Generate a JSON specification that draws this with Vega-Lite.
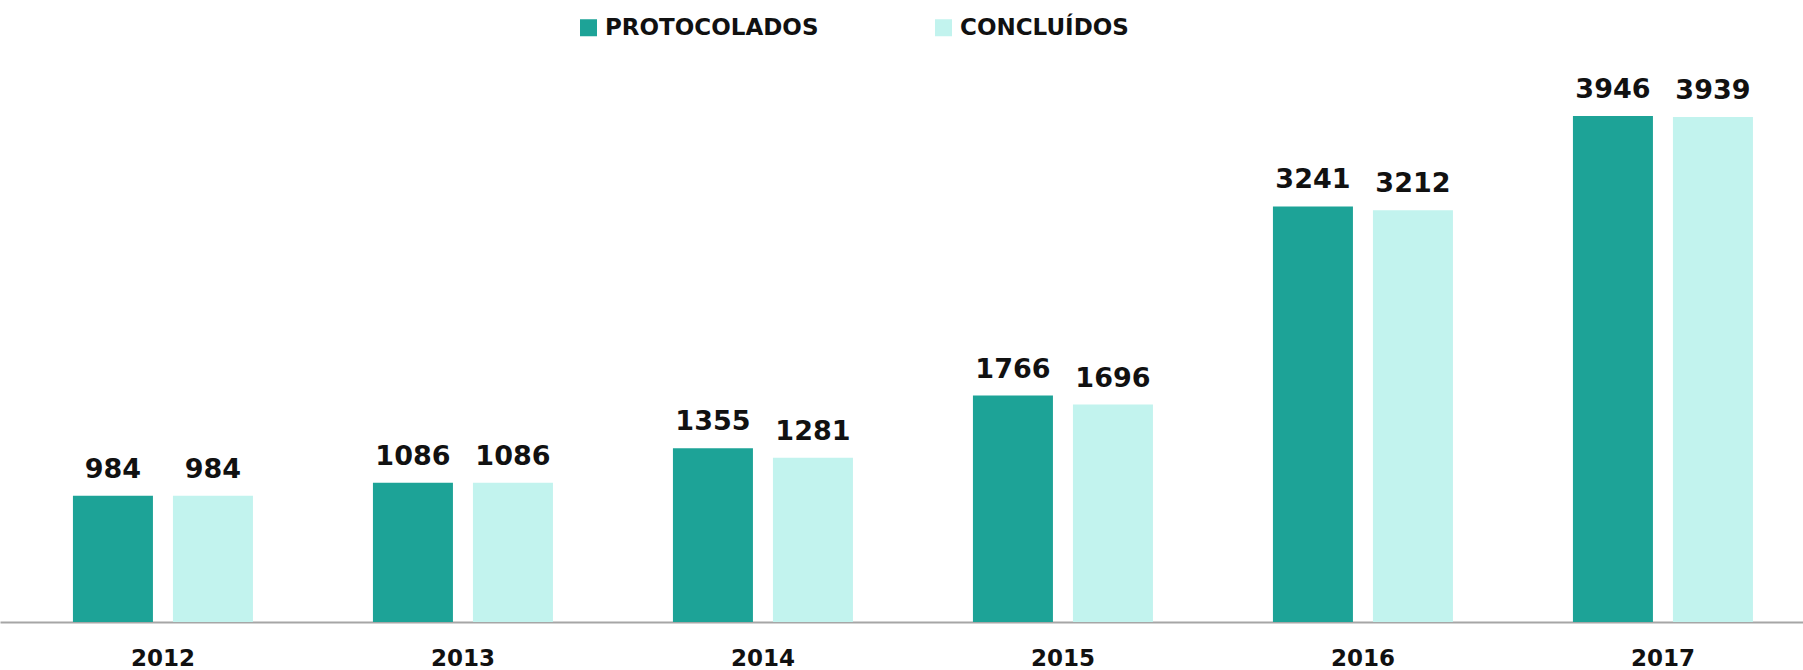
{
  "$schema": "https://vega.github.io/schema/vega-lite/v6.json",
  "width": 1803,
  "height": 577,
  "autosize": {"type": "none"},
  "padding": {"left": 0, "right": 0, "top": 45, "bottom": 48},
  "background": "white",
  "config": {
    "view": {"stroke": null},
    "font": "DejaVu Sans"
  },
  "data": {
    "values": [
      {"ano": "2012", "serie": "PROTOCOLADOS", "valor": 984},
      {"ano": "2012", "serie": "CONCLUÍDOS", "valor": 984},
      {"ano": "2013", "serie": "PROTOCOLADOS", "valor": 1086},
      {"ano": "2013", "serie": "CONCLUÍDOS", "valor": 1086},
      {"ano": "2014", "serie": "PROTOCOLADOS", "valor": 1355},
      {"ano": "2014", "serie": "CONCLUÍDOS", "valor": 1281},
      {"ano": "2015", "serie": "PROTOCOLADOS", "valor": 1766},
      {"ano": "2015", "serie": "CONCLUÍDOS", "valor": 1696},
      {"ano": "2016", "serie": "PROTOCOLADOS", "valor": 3241},
      {"ano": "2016", "serie": "CONCLUÍDOS", "valor": 3212},
      {"ano": "2017", "serie": "PROTOCOLADOS", "valor": 3946},
      {"ano": "2017", "serie": "CONCLUÍDOS", "valor": 3939}
    ]
  },
  "encoding": {
    "x": {
      "field": "ano",
      "type": "nominal",
      "sort": null,
      "scale": {"paddingInner": 0.4, "paddingOuter": 0.205, "align": 0.593, "round": false},
      "axis": {
        "title": null,
        "labelAngle": 0,
        "ticks": false,
        "tickSize": 0,
        "labelPadding": 43,
        "labelBaseline": "alphabetic",
        "labelFont": "DejaVu Sans",
        "labelFontWeight": "bold",
        "labelFontSize": 23,
        "labelColor": "#111111",
        "domainColor": "#A6A6A6",
        "domainWidth": 2,
        "grid": false
      }
    },
    "xOffset": {
      "field": "serie",
      "type": "nominal",
      "sort": ["PROTOCOLADOS", "CONCLUÍDOS"],
      "scale": {"paddingInner": 0.2, "paddingOuter": 0, "round": false}
    },
    "y": {
      "field": "valor",
      "type": "quantitative",
      "scale": {"domain": [0, 4500], "nice": false, "zero": true},
      "axis": null
    }
  },
  "layer": [
    {
      "mark": {"type": "bar"},
      "encoding": {
        "color": {
          "field": "serie",
          "type": "nominal",
          "sort": ["PROTOCOLADOS", "CONCLUÍDOS"],
          "scale": {"domain": ["PROTOCOLADOS", "CONCLUÍDOS"], "range": ["#1DA397", "#C2F3EE"]},
          "legend": {
            "title": null,
            "orient": "none",
            "legendX": 577,
            "legendY": -29,
            "direction": "horizontal",
            "padding": 0,
            "symbolType": "square",
            "symbolSize": 289,
            "symbolStrokeWidth": 0,
            "symbolOpacity": 1,
            "labelFont": "DejaVu Sans",
            "labelFontWeight": "bold",
            "labelFontSize": 23,
            "labelColor": "#111111",
            "labelOffset": 5,
            "columnPadding": 113,
            "labelLimit": 400
          }
        }
      }
    },
    {
      "mark": {
        "type": "text",
        "baseline": "alphabetic",
        "align": "center",
        "dy": -18,
        "font": "DejaVu Sans",
        "fontWeight": "bold",
        "fontSize": 27,
        "color": "#111111"
      },
      "encoding": {
        "text": {"field": "valor", "type": "quantitative", "format": "d"}
      }
    }
  ]
}
